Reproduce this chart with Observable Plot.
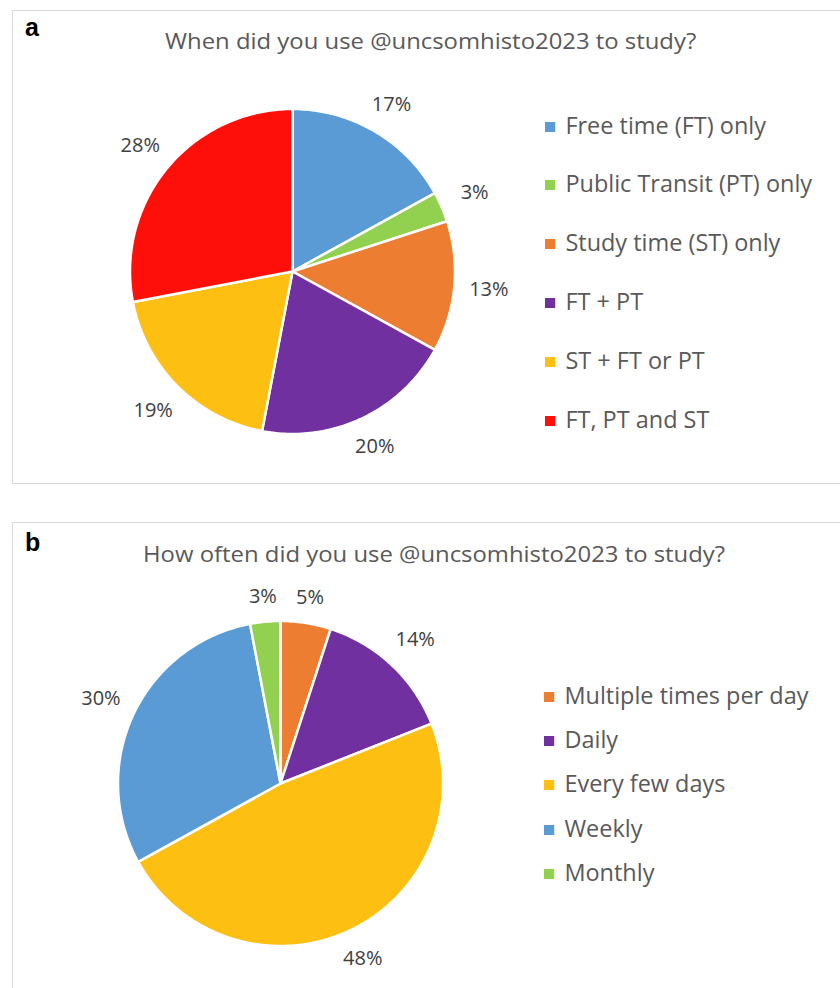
<!DOCTYPE html>
<html>
<head>
<meta charset="utf-8">
<script src="https://cdn.jsdelivr.net/npm/d3@7"></script>
<script src="https://cdn.jsdelivr.net/npm/@observablehq/plot@0.6"></script>
<style>
  html, body { margin: 0; padding: 0; background: #fff; width: 840px; height: 988px; overflow: hidden; }
  .panel { position: absolute; border: 1.5px solid #d9d9d9; box-sizing: border-box; }
  .abs { position: absolute; white-space: nowrap; transform-origin: 0 50%; }
  .tag { font-family: "Liberation Sans", Arial, sans-serif; font-weight: bold; font-size: 25px; color: #000; line-height: 30px; }
  .title { font-family: "Open Sans", Lato, sans-serif; font-size: 22px; color: #595959; line-height: 28px; transform: scaleX(1.085); }
  .leg { font-family: "Open Sans", Lato, sans-serif; font-size: 23px; color: #595959; line-height: 28px; transform: scaleX(1.02); }
  .sw { display: inline-block; width: 10px; height: 10px; margin-right: 10px; vertical-align: 2px; }
  .pie { position: absolute; }
</style>
</head>
<body>
<script>
// ---------- data ----------
const titleA = "When did you use @uncsomhisto2023 to study?";
const catsA = ["Free time (FT) only", "Public Transit (PT) only", "Study time (ST) only", "FT + PT", "ST + FT or PT", "FT, PT and ST"];
const valsA = [17, 3, 13, 20, 19, 28];
const colorsA = ["#5B9BD5", "#92D050", "#ED7D31", "#7030A0", "#FDBF12", "#FE0F0A"];

const titleB = "How often did you use @uncsomhisto2023 to study?";
const catsB = ["Multiple times per day", "Daily", "Every few days", "Weekly", "Monthly"];
const valsB = [5, 14, 48, 30, 3];
const colorsB = ["#ED7D31", "#7030A0", "#FDBF12", "#5B9BD5", "#92D050"];

// ---------- helpers ----------
const R = 162.5;     // pie radius in px
const HALF = 240;    // half size of pie svg

function wedgePoints(cats, vals) {
  const total = d3.sum(vals);
  const pts = [];
  const labels = [];
  let cum = 0;
  cats.forEach((c, i) => {
    const a0 = cum / total * 2 * Math.PI;
    cum += vals[i];
    const a1 = cum / total * 2 * Math.PI;
    pts.push({cat: c, x: 0, y: 0});
    const n = Math.max(2, Math.ceil((a1 - a0) / (Math.PI / 180)));
    for (let j = 0; j <= n; j++) {
      const a = a0 + (a1 - a0) * j / n;
      pts.push({cat: c, x: Math.sin(a), y: Math.cos(a)});
    }
    const am = (a0 + a1) / 2;
    const s = Math.sin(am), co = Math.cos(am);
    const r = (R + 14 + Math.abs(s) * 20 + Math.abs(co) * 9) / R;
    labels.push({cat: c, x: s * r, y: co * r, text: Math.round(vals[i] / total * 100) + "%"});
  });
  return {pts, labels};
}

function piePlot(cats, vals, colors) {
  const {pts, labels} = wedgePoints(cats, vals);
  const k = HALF / R;
  return Plot.plot({
    width: 2 * HALF, height: 2 * HALF, margin: 0,
    x: {domain: [-k, k], axis: null},
    y: {domain: [-k, k], axis: null},
    color: {domain: cats, range: colors},
    style: {background: "transparent", overflow: "visible"},
    marks: [
      Plot.line(pts, {x: "x", y: "y", z: "cat", fill: "cat", stroke: "white", strokeWidth: 2.5, strokeLinejoin: "round", curve: "linear-closed"}),
      Plot.text(labels, {x: "x", y: "y", text: "text", fontSize: 20, fill: "#404040", fontFamily: "'Open Sans', Lato, sans-serif"})
    ]
  });
}

function el(html, cls, left, top) {
  const d = document.createElement("div");
  d.className = "abs " + cls;
  d.style.left = left + "px";
  d.style.top = top + "px";
  d.innerHTML = html;
  document.body.appendChild(d);
  return d;
}

function panel(left, top, w, h) {
  const d = document.createElement("div");
  d.className = "panel";
  Object.assign(d.style, {left: left + "px", top: top + "px", width: w + "px", height: h + "px"});
  document.body.appendChild(d);
}

function legend(cats, colors, left, firstCenter, step) {
  cats.forEach((c, i) => {
    el(`<span class="sw" style="background:${colors[i]}"></span>${c}`, "leg", left, firstCenter + i * step - 14);
  });
}

function placePie(cats, vals, colors, cx, cy) {
  const svg = piePlot(cats, vals, colors);
  const wrap = document.createElement("div");
  wrap.className = "pie";
  wrap.style.left = (cx - HALF) + "px";
  wrap.style.top = (cy - HALF) + "px";
  wrap.appendChild(svg);
  document.body.appendChild(wrap);
}

// ---------- panel a ----------
panel(12, 10, 840, 474);
placePie(catsA, valsA, colorsA, 291.5, 271);
el("a", "tag", 25, 12);
el(titleA, "title", 165, 39.5 - 14);
legend(catsA, colorsA, 545, 124.5, 58.8);

// ---------- panel b ----------
panel(12, 522, 840, 480);
placePie(catsB, valsB, colorsB, 280, 783);
el("b", "tag", 25, 527);
el(titleB, "title", 143, 552.5 - 14);
legend(catsB, colorsB, 544, 695, 44.2);
</script>
</body>
</html>
